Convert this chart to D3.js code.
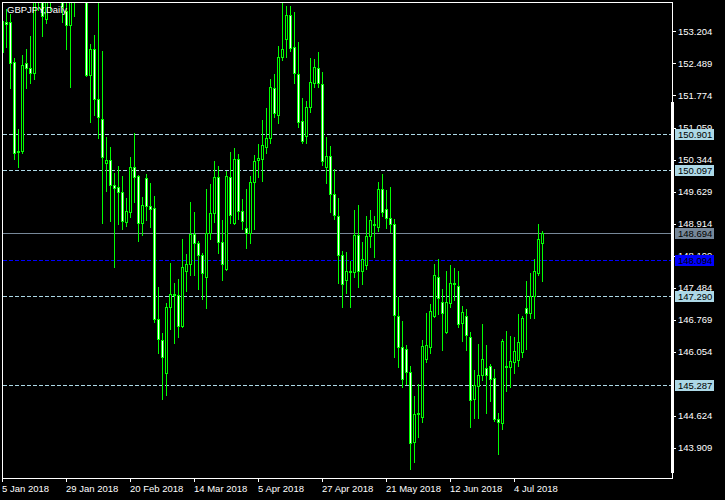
<!DOCTYPE html>
<html><head><meta charset="utf-8">
<script src="https://cdn.jsdelivr.net/npm/d3@7"></script>
<style>
body{margin:0;background:#000}
svg{display:block}
text{font-family:"Liberation Sans",Arial,sans-serif;font-size:9.5px}
</style>
</head><body>
<svg id="c" width="725" height="500"></svg>
<script>
const title = "GBPJPY,Daily";
const opens = [153.44,153.42,153.42,152.52,150.53,150.53,152.50,152.39,152.28,154.30,
154.80,153.48,154.58,154.80,155.70,154.36,153.66,153.35,154.36,155.25,
156.14,155.70,152.23,152.81,151.70,151.25,150.27,150.33,149.77,149.73,
149.62,148.95,149.17,150.18,149.98,148.93,149.93,149.31,149.26,146.78,
146.31,145.57,147.05,147.32,147.32,146.62,147.85,148.01,148.68,148.48,
148.21,147.72,148.70,149.15,149.95,148.50,147.90,149.95,148.93,150.36,
149.19,148.81,148.70,149.84,150.33,150.36,150.62,150.82,151.94,151.34,
152.64,153.04,153.57,152.86,152.26,151.20,150.87,151.52,152.05,152.39,
152.03,150.18,150.42,149.57,149.08,148.21,147.65,147.85,147.83,148.66,
147.85,147.99,148.64,148.90,148.84,149.69,149.24,149.04,148.90,146.85,
146.16,146.11,145.60,144.03,144.66,144.59,145.89,146.16,146.85,147.72,
147.16,146.49,147.14,147.59,147.52,146.69,146.85,146.38,144.99,145.28,
145.53,145.69,145.73,145.46,144.55,144.46,145.71,145.71,145.82,145.86,
146.04,147.03,146.91,147.29,147.81,148.48];
const highs = [153.44,153.71,153.60,152.61,151.03,152.68,152.81,153.10,154.58,155.20,
155.03,154.80,155.25,156.14,156.37,154.80,154.02,155.03,155.70,156.59,
156.81,156.14,152.93,153.13,153.84,152.77,150.85,150.62,150.04,150.20,
149.98,149.48,150.40,150.94,150.00,149.51,150.02,149.82,149.53,147.50,
146.47,147.14,148.03,147.59,147.67,148.57,148.23,149.39,149.17,148.52,
148.26,149.69,149.80,150.31,150.20,148.99,150.09,150.51,150.60,150.47,
149.46,149.69,149.98,150.44,150.69,151.23,151.50,152.14,152.26,152.88,
153.90,153.77,153.77,153.64,152.97,151.72,151.65,152.61,152.59,152.75,
152.30,150.85,150.65,150.13,149.48,148.30,148.28,148.08,149.22,149.33,
148.50,149.08,149.22,149.08,149.84,150.02,149.66,149.73,149.02,147.27,
146.74,146.20,145.73,145.06,145.33,146.31,146.91,147.12,148.01,148.12,
147.45,147.85,147.99,147.92,147.85,147.07,147.00,146.49,145.64,146.22,
146.67,146.20,145.78,145.66,144.68,146.33,146.51,146.40,146.38,146.89,
146.85,147.63,147.81,148.12,148.90,148.75];
const lows = [152.75,152.86,151.94,150.36,150.18,150.49,151.94,152.05,152.14,153.69,
153.10,153.39,153.69,154.36,154.13,153.42,152.81,151.96,153.55,154.58,
155.03,152.21,151.18,151.34,150.82,148.93,149.64,148.97,147.94,148.90,
148.79,148.86,149.06,149.39,148.52,148.66,148.99,148.84,146.71,146.02,
144.99,145.08,146.56,146.24,146.38,146.60,147.41,147.76,147.76,147.45,
147.23,147.03,148.57,148.95,148.26,147.65,147.88,148.93,148.91,149.02,
148.79,148.37,148.48,148.79,149.95,149.86,150.49,150.71,151.29,151.16,
152.57,152.64,152.77,152.05,151.07,150.71,150.71,151.41,151.96,151.96,
150.22,149.82,149.17,149.02,147.59,147.05,147.36,147.05,147.72,147.50,
147.56,147.90,148.39,148.17,148.75,149.08,148.81,148.72,145.93,145.71,
145.26,145.33,143.43,143.59,144.14,144.48,145.82,146.02,146.83,146.89,
146.09,146.47,147.05,147.21,146.60,146.29,146.09,144.37,144.57,144.57,
145.42,144.68,144.95,144.50,143.76,144.32,145.17,145.26,145.57,145.73,
145.93,146.11,146.80,146.80,147.76,147.63];
const closes = [152.75,153.37,152.50,150.49,150.51,152.46,152.39,152.28,154.36,155.00,
153.55,154.58,155.03,155.70,155.03,153.75,153.35,154.58,155.25,156.14,
155.70,152.23,152.81,151.70,151.29,150.40,150.33,149.77,149.71,149.62,
148.97,149.19,150.18,149.95,148.93,149.33,149.31,149.24,146.78,146.33,
145.93,147.05,147.34,147.34,146.62,147.94,148.01,148.68,148.48,148.21,
147.81,148.70,149.15,149.95,148.50,148.01,149.98,149.10,150.36,149.19,
148.97,148.70,149.84,150.31,150.38,150.67,150.82,151.96,151.38,152.64,
152.81,153.57,152.84,152.28,151.18,150.76,151.52,152.08,152.41,152.05,
150.31,150.42,149.57,149.10,148.21,147.56,147.85,147.84,148.66,147.85,
148.12,148.64,148.99,148.88,149.69,149.17,149.04,148.90,146.87,146.16,
145.44,145.60,144.01,144.66,144.68,146.18,146.20,146.96,147.76,147.25,
146.91,147.16,147.59,147.57,146.67,146.94,146.42,144.97,145.31,145.53,
145.89,145.53,145.44,144.55,144.48,146.29,145.73,145.84,146.07,146.27,
146.80,146.91,147.29,147.85,148.57,148.694];
const xTickIndex = [0,16,32,48,64,80,96,112,128];
const xTickLabels = ["5 Jan 2018","29 Jan 2018","20 Feb 2018","14 Mar 2018","5 Apr 2018","27 Apr 2018","21 May 2018","12 Jun 2018","4 Jul 2018"];
const yTicks = [153.204,152.489,151.774,151.059,150.344,149.629,148.914,148.199,147.484,146.769,146.054,144.624,143.909];
const dashedLevels = [150.901,150.097,147.290,145.287];
const bidLevel = 148.694;
const blueLevel = 148.094;

const svg = d3.select("#c");
svg.append("rect").attr("width",725).attr("height",500).attr("fill","#000");

const x = d3.scaleLinear().domain([0,167.5]).range([2,672]);
const y = d3.scaleLinear().domain([143.228,153.863]).range([478,2]);

const GREEN = "#00ff00";
const defs = svg.append("defs");
defs.append("clipPath").attr("id","plot").append("rect")
  .attr("x",3).attr("y",3).attr("width",669).attr("height",475);

const plot = svg.append("g").attr("clip-path","url(#plot)").attr("shape-rendering","crispEdges");

// level lines
const row = v => Math.floor(y(v));
dashedLevels.forEach(v=>{
  plot.append("line").attr("x1",3).attr("x2",671).attr("y1",row(v)+0.5).attr("y2",row(v)+0.5)
    .attr("stroke","#add8e6").attr("stroke-dasharray","4,2");
});
plot.append("line").attr("x1",3).attr("x2",671).attr("y1",row(bidLevel)+0.5).attr("y2",row(bidLevel)+0.5)
  .attr("stroke","#778899");
plot.append("line").attr("x1",3).attr("x2",671).attr("y1",row(blueLevel)+0.5).attr("y2",row(blueLevel)+0.5)
  .attr("stroke","#0000ff").attr("stroke-dasharray","4,2");

// candles
const idx = d3.range(opens.length);
const cg = plot.append("g");
idx.forEach(i=>{
  const c = Math.round(x(i));
  const o = opens[i], h = highs[i], l = lows[i], cl = closes[i];
  const yh = Math.round(y(h)), yl = Math.round(y(l));
  const yt = Math.round(y(Math.max(o,cl))), yb = Math.round(y(Math.min(o,cl)));
  cg.append("line").attr("x1",c+0.5).attr("x2",c+0.5).attr("y1",yh).attr("y2",yl+1).attr("stroke",GREEN);
  const bull = cl >= o;
  if (yb - yt <= 0) {
    cg.append("line").attr("x1",c-1).attr("x2",c+2).attr("y1",yt+0.5).attr("y2",yt+0.5).attr("stroke",GREEN);
  } else {
    cg.append("rect").attr("x",c-0.5).attr("y",yt+0.5).attr("width",2).attr("height",yb-yt)
      .attr("fill","none").attr("stroke",GREEN);
    if (yb - yt >= 2) {
      cg.append("rect").attr("x",c).attr("y",yt+1).attr("width",1).attr("height",yb-yt-1)
        .attr("fill", bull ? "#000" : "#fff");
    }
  }
});

// frame
svg.append("rect").attr("x",2.5).attr("y",2.5).attr("width",670).attr("height",476)
  .attr("fill","none").attr("stroke","#fff").attr("shape-rendering","crispEdges");
svg.append("rect").attr("x",671).attr("y",102).attr("width",3).attr("height",371).attr("fill","#fff");

// y axis
const ya = svg.append("g").attr("transform","translate(672,0)")
  .call(d3.axisRight(y).tickValues(yTicks).tickSize(4).tickPadding(2).tickFormat(d3.format(".3f")));
ya.select(".domain").remove();
ya.selectAll("line").attr("stroke","#fff").attr("shape-rendering","crispEdges");
ya.selectAll("text").attr("fill","#fff").attr("font-family",null).attr("font-size",null);

// x axis
const xa = svg.append("g").attr("transform","translate(0,478)")
  .call(d3.axisBottom(x).tickValues(xTickIndex).tickSize(4).tickFormat((d,i)=>xTickLabels[i]));
xa.select(".domain").remove();
xa.selectAll("line").attr("stroke","#fff").attr("shape-rendering","crispEdges");
xa.selectAll("text").attr("fill","#fff").attr("text-anchor","start").attr("dy",null).attr("y",14)
  .attr("x",-0.5).attr("font-family",null).attr("font-size",null);

// level labels
function tag(v, bg, fg){
  const r = row(v);
  svg.append("rect").attr("x",675).attr("y",r-5).attr("width",39).attr("height",11).attr("fill",bg);
  svg.append("text").attr("x",678).attr("y",r+4).attr("fill",fg).text(d3.format(".3f")(v));
}
dashedLevels.forEach(v=>tag(v,"#add8e6","#000"));
tag(bidLevel,"#778899","#000");
tag(blueLevel,"#0000ff","#000");

// title
svg.append("text").attr("x",7).attr("y",13).attr("fill","#fff").text(title);
</script>
</body></html>
